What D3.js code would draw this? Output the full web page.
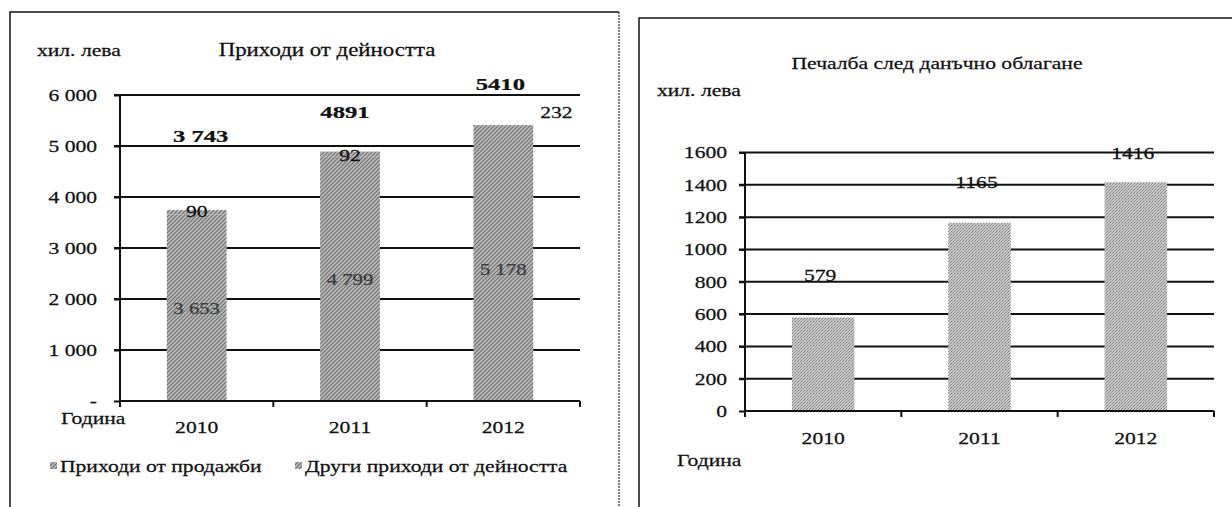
<!DOCTYPE html>
<html>
<head>
<meta charset="utf-8">
<script src="https://cdn.jsdelivr.net/npm/d3@7"></script>
<style>
  html, body { margin: 0; padding: 0; background: #fff; }
  svg { display: block; }
</style>
</head>
<body>
<div id="chart"></div>
<script>
// Two bar charts from a scanned report: income (stacked) and net profit.

const years = ["2010", "2011", "2012"];

// left chart: income from activity, thousand leva
const salesIncome = [3653, 4799, 5178];
const otherIncome = [90, 92, 232];
const totalLabels = ["3 743", "4891", "5410"];
const incomeTicks = [0, 1000, 2000, 3000, 4000, 5000, 6000];

// right chart: profit after tax, thousand leva
const profit = [579, 1165, 1416];
const profitTicks = [0, 200, 400, 600, 800, 1000, 1200, 1400, 1600];

const seriesNames = ["Приходи от продажби", "Други приходи от дейността"];

// the scan is stretched sideways, so text is widened to match
const SX = 1.27;
const FS = 17;
const FONT = "'Liberation Serif', 'Times New Roman', serif";
const INK = "#111";

const W = 1232, H = 507;
const svg = d3.select("#chart").append("svg")
  .attr("width", W).attr("height", H)
  .style("font-family", FONT);

svg.append("rect").attr("width", W).attr("height", H).attr("fill", "#fff");

// gray scan textures for the bars
const defs = svg.append("defs");
const patL = defs.append("pattern").attr("id", "texL")
  .attr("width", 4).attr("height", 4).attr("patternUnits", "userSpaceOnUse");
patL.append("rect").attr("width", 4).attr("height", 4).attr("fill", "#b9b9b9");
patL.append("path").attr("d", "M-1,1 l2,-2 M0,4 l4,-4 M3,5 l2,-2")
  .attr("stroke", "#6e6e6e").attr("stroke-width", 1.1);
const patR = defs.append("pattern").attr("id", "texR")
  .attr("width", 3).attr("height", 3).attr("patternUnits", "userSpaceOnUse");
patR.append("rect").attr("width", 3).attr("height", 3).attr("fill", "#c8c8c8");
patR.append("rect").attr("x", 0).attr("y", 0).attr("width", 1).attr("height", 1).attr("fill", "#7c7c7c");
patR.append("rect").attr("x", 2).attr("y", 1).attr("width", 1).attr("height", 1).attr("fill", "#8e8e8e");
patR.append("rect").attr("x", 1).attr("y", 2).attr("width", 1).attr("height", 1).attr("fill", "#9a9a9a");

function label(g, x, y, str, o = {}) {
  return g.append("text")
    .attr("transform", `translate(${x},${y}) scale(${o.sx || SX},1)`)
    .attr("text-anchor", o.anchor || "middle")
    .attr("dy", "0.35em")
    .attr("fill", o.fill || INK)
    .attr("stroke", o.fill || INK).attr("stroke-width", 0.25)
    .style("font-size", (o.size || FS) + "px")
    .style("font-weight", o.weight || 400)
    .text(str);
}

function styleTicks(ax, gap) {
  ax.selectAll("line").attr("stroke", INK).attr("stroke-width", 2);
  ax.selectAll("text").attr("x", -gap / SX).attr("transform", `scale(${SX},1)`)
    .attr("fill", INK).attr("stroke", INK).attr("stroke-width", 0.25)
    .style("font-size", FS + "px").style("font-family", FONT);
}

// chart frames
const frame = svg.append("g").attr("fill", "none");
frame.append("path").attr("d", "M10,507 V12 H619")
  .attr("stroke", INK).attr("stroke-width", 1.5);
frame.append("path").attr("d", "M619,12 V507")
  .attr("stroke", "#555").attr("stroke-width", 1.5).attr("stroke-dasharray", "2,1");
frame.append("path").attr("d", "M639,507 V18 H1232")
  .attr("stroke", INK).attr("stroke-width", 1.5);

const spaced = (d) => d3.format(",")(d).replace(/,/g, " ");

// ---------------------------------------------------------------------------
// Left: Приходи от дейността (stacked)
// ---------------------------------------------------------------------------
{
  const g = svg.append("g");
  const x = d3.scaleBand().domain(years).range([120, 580]);
  const y = d3.scaleLinear().domain([0, 6000]).range([401, 95]);
  const bw = x.step() * 0.39;

  g.append("g").selectAll("line").data(incomeTicks.slice(1)).join("line")
    .attr("x1", 114).attr("x2", 580)
    .attr("y1", (d) => y(d)).attr("y2", (d) => y(d))
    .attr("stroke", INK).attr("stroke-width", 2);

  const ax = g.append("g").attr("transform", "translate(120,0)")
    .call(d3.axisLeft(y).tickValues(incomeTicks)
      .tickFormat((d) => (d === 0 ? "-" : spaced(d))).tickSize(6))
    .call((s) => s.select(".domain").remove());
  styleTicks(ax, 23);

  const stack = d3.stack().keys([0, 1])(years.map((yr, i) => [salesIncome[i], otherIncome[i]]));
  g.append("g").selectAll("g").data(stack).join("g")
    .attr("fill", "url(#texL)")
    .selectAll("rect").data((s) => s).join("rect")
    .attr("x", (d, i) => x(years[i]) + (x.step() - bw) / 2)
    .attr("width", bw)
    .attr("y", (d) => y(d[1]))
    .attr("height", (d) => y(d[0]) - y(d[1]));

  // y axis, x axis with boundary ticks
  g.append("line").attr("x1", 120).attr("x2", 120).attr("y1", y(6000)).attr("y2", y(0))
    .attr("stroke", INK).attr("stroke-width", 2);
  g.append("line").attr("x1", 120).attr("x2", 580).attr("y1", y(0)).attr("y2", y(0))
    .attr("stroke", INK).attr("stroke-width", 2);
  g.append("g").selectAll("line").data(d3.range(years.length + 1)).join("line")
    .attr("x1", (i) => x.range()[0] + i * x.step()).attr("x2", (i) => x.range()[0] + i * x.step())
    .attr("y1", y(0)).attr("y2", y(0) + 6)
    .attr("stroke", INK).attr("stroke-width", 2);

  const cx = (i) => x(years[i]) + x.step() / 2;
  years.forEach((yr, i) => label(g, cx(i), 427, yr));

  // value labels
  salesIncome.forEach((v, i) => label(g, cx(i), y(v / 2), spaced(v), { fill: "#3a3a3a", sx: 1.22 }));
  const otherDx = [0, 0, 53], otherDy = [1, 3, -13];
  otherIncome.forEach((v, i) => label(g, cx(i) + otherDx[i], y(salesIncome[i] + v) + otherDy[i], v));
  const totalDx = [4, -5, -3], totalDy = [-74, -40, -41];
  totalLabels.forEach((t, i) =>
    label(g, cx(i) + totalDx[i], y(salesIncome[i] + otherIncome[i]) + totalDy[i], t, { weight: 700, sx: 1.45 }));

  label(g, 37, 50, "хил. лева", { anchor: "start" });
  label(g, 327, 50, "Приходи от дейността", { size: 18 });
  label(g, 61, 418, "Година", { anchor: "start" });

  // legend
  seriesNames.forEach((name, i) => {
    const lx = [50, 295][i];
    g.append("rect").attr("x", lx).attr("y", 462).attr("width", 7).attr("height", 7)
      .attr("fill", "url(#texL)");
    label(g, lx + 10, 466, name, { anchor: "start" });
  });
}

// ---------------------------------------------------------------------------
// Right: Печалба след данъчно облагане
// ---------------------------------------------------------------------------
{
  const g = svg.append("g");
  const x = d3.scaleBand().domain(years).range([745, 1214]);
  const y = d3.scaleLinear().domain([0, 1600]).range([411, 152.5]);
  const bw = x.step() * 0.4;

  g.append("g").selectAll("line").data(profitTicks.slice(1)).join("line")
    .attr("x1", 739).attr("x2", 1214)
    .attr("y1", (d) => y(d)).attr("y2", (d) => y(d))
    .attr("stroke", INK).attr("stroke-width", 2);

  const ax = g.append("g").attr("transform", "translate(745,0)")
    .call(d3.axisLeft(y).tickValues(profitTicks).tickFormat((d) => String(d)).tickSize(6))
    .call((s) => s.select(".domain").remove());
  styleTicks(ax, 18);

  g.append("g").selectAll("rect").data(profit).join("rect")
    .attr("x", (d, i) => x(years[i]) + (x.step() - bw) / 2)
    .attr("width", bw)
    .attr("y", (d) => y(d))
    .attr("height", (d) => y(0) - y(d))
    .attr("fill", "url(#texR)");

  g.append("line").attr("x1", 745).attr("x2", 745).attr("y1", y(1600)).attr("y2", y(0))
    .attr("stroke", INK).attr("stroke-width", 2);
  g.append("line").attr("x1", 745).attr("x2", 1214).attr("y1", y(0)).attr("y2", y(0))
    .attr("stroke", INK).attr("stroke-width", 2);
  g.append("g").selectAll("line").data(d3.range(years.length + 1)).join("line")
    .attr("x1", (i) => x.range()[0] + i * x.step()).attr("x2", (i) => x.range()[0] + i * x.step())
    .attr("y1", y(0)).attr("y2", y(0) + 6)
    .attr("stroke", INK).attr("stroke-width", 2);

  const cx = (i) => x(years[i]) + x.step() / 2;
  years.forEach((yr, i) => label(g, cx(i), 438, yr));

  const profitDy = [-42, -41, -29];
  profit.forEach((v, i) => label(g, cx(i) - 3, y(v) + profitDy[i], v));

  label(g, 937, 63, "Печалба след данъчно облагане");
  label(g, 657, 90, "хил. лева", { anchor: "start" });
  label(g, 677, 460, "Година", { anchor: "start" });
}
</script>
</body>
</html>
